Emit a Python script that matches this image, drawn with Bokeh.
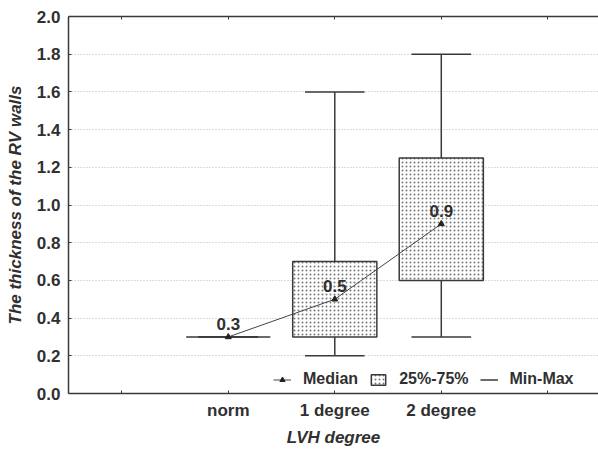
import numpy as np
from bokeh.plotting import figure
from bokeh.models import (FixedTicker, Legend, LegendItem, LinearAxis,
                          Range1d, NumeralTickFormatter)
from bokeh.embed import file_html
from bokeh.resources import INLINE
from bokeh.core.properties import value

# ---- data ----
categories = ["norm", "1 degree", "2 degree"]
medians = [0.3, 0.5, 0.9]
q1 = [0.3, 0.3, 0.6]
q3 = [0.3, 0.7, 1.25]
mins = [0.3, 0.2, 0.3]
maxs = [0.3, 1.6, 1.8]
median_labels = ["0.3", "0.5", "0.9"]
y_ticks = [0.0, 0.2, 0.4, 0.6, 0.8, 1.0, 1.2, 1.4, 1.6, 1.8, 2.0]

FONT = "Liberation Sans"
TXT = "#303030"
LINE = "#3a3a3a"

xpos = np.arange(1, len(categories) + 1)
box_half = 0.395
cap_half = 0.28

p = figure(width=598, height=449, output_backend="svg", toolbar_location=None,
           x_range=Range1d(-0.5, 4.476), y_range=Range1d(0, 2.0),
           min_border_left=68, min_border_right=0, min_border_top=16,
           min_border_bottom=56)
p.outline_line_color = None
p.background_fill_color = "white"
p.border_fill_color = "white"

# axes
x_ticks = list(range(0, len(categories) + 2))
p.xaxis.ticker = FixedTicker(ticks=x_ticks)
p.xaxis.major_label_overrides = {i: (categories[i - 1] if 1 <= i <= len(categories) else "") for i in x_ticks}
p.yaxis.ticker = FixedTicker(ticks=y_ticks)
p.yaxis.formatter = NumeralTickFormatter(format="0.0")
for ax in (p.xaxis[0], p.yaxis[0]):
    ax.axis_line_color = LINE
    ax.axis_line_width = 1.5
    ax.major_tick_line_color = LINE
    ax.major_tick_in = 3
    ax.major_tick_out = 0
    ax.minor_tick_line_color = None
    ax.major_label_text_font = FONT
    ax.major_label_text_font_style = "bold"
    ax.major_label_text_font_size = "17px"
    ax.major_label_text_color = TXT
    ax.axis_label_text_font = FONT
    ax.axis_label_text_font_style = "bold italic"
    ax.axis_label_text_font_size = "17px"
    ax.axis_label_text_color = TXT
p.xaxis.axis_label = "LVH degree"
p.yaxis.axis_label = "The thickness of the RV walls"
p.xaxis.major_label_standoff = 7
p.xaxis.axis_label_standoff = 5
p.yaxis.major_label_standoff = 8
p.yaxis.axis_label_standoff = 9

top_axis = LinearAxis(ticker=FixedTicker(ticks=x_ticks), major_label_text_font_size="0px",
                      major_label_standoff=0, axis_line_color=LINE, axis_line_width=1.5,
                      major_tick_line_color=LINE, major_tick_in=3, major_tick_out=0,
                      minor_tick_line_color=None)
top_axis.major_label_overrides = {i: "" for i in x_ticks}
p.add_layout(top_axis, "above")

p.xgrid.visible = False
p.ygrid.ticker = FixedTicker(ticks=y_ticks)
p.ygrid.grid_line_color = "#b8b8b8"
p.ygrid.grid_line_dash = "1 2"
p.ygrid.grid_line_width = 1

# whisker stems
p.segment(x0=xpos, y0=q3, x1=xpos, y1=maxs, line_color=LINE, line_width=1.5)
p.segment(x0=xpos, y0=mins, x1=xpos, y1=q1, line_color=LINE, line_width=1.5)
# caps
cap_r = p.segment(x0=xpos - cap_half, y0=maxs, x1=xpos + cap_half, y1=maxs,
                  line_color=LINE, line_width=1.5)
p.segment(x0=xpos - cap_half, y0=mins, x1=xpos + cap_half, y1=mins,
          line_color=LINE, line_width=1.5)

# boxes (25%-75%)
box_r = p.quad(left=xpos - box_half, right=xpos + box_half, bottom=q1, top=q3,
               fill_color="white", line_color=LINE, line_width=1.5,
               hatch_pattern="dot", hatch_color="#777777", hatch_scale=4, hatch_weight=1.5)

# medians
med_line = p.line(xpos, medians, line_color="#444444", line_width=1)
med_pts = p.scatter(xpos, medians, marker="triangle", size=6, color="#222222")
p.text(x=xpos, y=medians, text=median_labels, text_align="center", text_baseline="middle",
       y_offset=-13, text_font=value(FONT), text_font_style="bold", text_font_size="17px",
       text_color=TXT)

legend = Legend(items=[LegendItem(label="Median", renderers=[med_line, med_pts]),
                       LegendItem(label="25%-75%", renderers=[box_r]),
                       LegendItem(label="Min-Max", renderers=[cap_r])],
                orientation="horizontal", location=(205, 5),
                glyph_width=18, glyph_height=13, label_height=16, label_standoff=12,
                spacing=11, padding=0, margin=0,
                border_line_color=None, background_fill_alpha=0,
                label_text_font=FONT, label_text_font_style="bold",
                label_text_font_size="16px", label_text_color=TXT)
p.add_layout(legend)

open("out.html", "w").write(file_html(p, INLINE))
